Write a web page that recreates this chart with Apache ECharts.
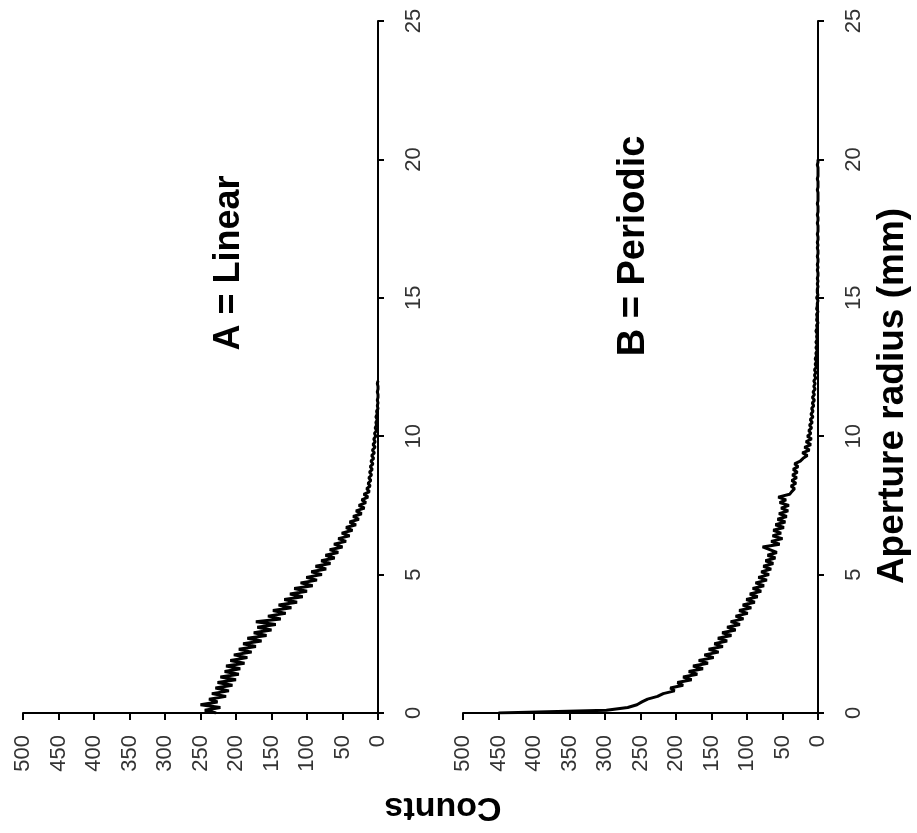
<!DOCTYPE html>
<html>
<head>
<meta charset="utf-8">
<title>Counts vs aperture radius</title>
<script src="https://cdn.jsdelivr.net/npm/echarts@6/dist/echarts.min.js"></script>
<style>
  html, body { margin: 0; padding: 0; background: #fff; }
  #chart { width: 917px; height: 833px; }
</style>
</head>
<body>
<div id="chart"></div>
<script>
// sampling step of the aperture radius (mm), both runs start at 0
const radiusStep = 0.1

// A = Linear, counts at radius 0, 0.1, 0.2 ... 12.0
const countsA = [
  228, 244, 222, 250, 226, 238, 214, 234, 210, 229,
  205, 226, 200, 222, 196, 216, 194, 214, 188, 208,
  184, 203, 178, 196, 172, 190, 164, 184, 157, 175,
  150, 170, 144, 172, 137, 155, 130, 148, 122, 140,
  114, 132, 106, 124, 100, 118, 92, 109, 86, 101,
  79, 94, 73, 88, 67, 80, 61, 74, 56, 68,
  50, 62, 45, 56, 40, 51, 36, 45, 31, 40,
  27, 35, 23, 31, 19, 27, 17, 23, 14, 20,
  12, 16, 11, 14, 10, 13, 9, 12, 8, 11,
  7, 10, 6, 9, 5, 8, 4, 7, 4, 6,
  3, 5, 2, 4, 2, 3, 1, 3, 1, 2,
  0, 1, 0, 1, 0, 0, 1, 0, 0, 1,
  0
]

// B = Periodic, counts at radius 0, 0.1, 0.2 ... 20.0
const countsB = [
  450, 298, 268, 255, 248, 240, 226, 218, 202, 208,
  190, 198, 178, 190, 170, 182, 162, 176, 155, 168,
  147, 160, 140, 154, 134, 146, 128, 141, 122, 135,
  116, 128, 110, 123, 105, 116, 99, 111, 94, 106,
  89, 101, 85, 96, 80, 92, 76, 88, 72, 84,
  69, 80, 66, 77, 63, 74, 60, 71, 58, 68,
  78, 54, 66, 50, 64, 52, 63, 48, 60, 46,
  57, 44, 55, 42, 52, 41, 54, 45, 56, 40,
  37, 33, 38, 31, 37, 30, 36, 29, 35, 28,
  33, 25, 21, 15, 22, 12, 19, 10, 17, 9,
  15, 10, 13, 9, 12, 8, 11, 7, 10, 7,
  9, 6, 8, 5, 8, 5, 7, 4, 6, 4,
  6, 3, 5, 3, 5, 2, 4, 2, 4, 2,
  3, 1, 3, 1, 3, 1, 2, 1, 3, 1,
  2, 0, 2, 1, 2, 0, 2, 1, 1, 0,
  2, 0, 1, 1, 0, 1, 0, 1, 0, 0,
  1, 0, 1, 0, 0, 1, 0, 0, 1, 0,
  1, 0, 0, 1, 0, 0, 0, 1, 0, 0,
  1, 0, 0, 0, 1, 0, 0, 0, 0, 1,
  0, 0, 0, 1, 0, 0, 0, 0, 1, 0,
  0
]

// tick labels
const countTicks = { min: 0, max: 500, interval: 50 }
const radiusTicks = { min: 0, max: 25, interval: 5 }

// counts lie along x (0 on the right), radius along y
function toPairs(counts) {
  return counts.map((c, i) => [c, +(i * radiusStep).toFixed(1)])
}

const labelFont = '"Liberation Sans", Arial, sans-serif'

function countAxis(gridIndex) {
  return {
    type: 'value',
    gridIndex: gridIndex,
    position: 'bottom',
    inverse: true,
    min: countTicks.min,
    max: countTicks.max,
    interval: countTicks.interval,
    splitLine: { show: false },
    axisLine: { show: true, onZero: false, lineStyle: { color: '#000', width: 2 } },
    axisTick: { show: true, length: 7, lineStyle: { color: '#000', width: 2 } },
    axisLabel: { rotate: 90, margin: 22, fontSize: 22, color: '#333', fontFamily: labelFont }
  }
}

function radiusAxis(gridIndex) {
  return {
    type: 'value',
    gridIndex: gridIndex,
    position: 'right',
    min: radiusTicks.min,
    max: radiusTicks.max,
    interval: radiusTicks.interval,
    splitLine: { show: false },
    axisLine: { show: true, onZero: false, lineStyle: { color: '#000', width: 2 } },
    axisTick: { show: true, length: 6, lineStyle: { color: '#000', width: 2 } },
    axisLabel: { rotate: 90, margin: 25, fontSize: 22, color: '#333', fontFamily: labelFont }
  }
}

function titleText(text, x, y, size, rot) {
  return {
    type: 'text',
    x: x,
    y: y,
    rotation: rot,
    style: {
      text: text,
      font: 'bold ' + size + 'px "Liberation Sans", Arial, sans-serif',
      fill: '#000',
      align: 'center',
      verticalAlign: 'middle'
    }
  }
}

const chart = echarts.init(document.getElementById('chart'))
chart.setOption({
  animation: false,
  backgroundColor: '#fff',
  grid: [
    { left: 23, right: 539, top: 21, bottom: 120 },
    { left: 463, right: 99, top: 21, bottom: 120 }
  ],
  xAxis: [countAxis(0), countAxis(1)],
  yAxis: [radiusAxis(0), radiusAxis(1)],
  series: [
    {
      name: 'A = Linear',
      type: 'line',
      xAxisIndex: 0,
      yAxisIndex: 0,
      showSymbol: false,
      lineStyle: { color: '#000', width: 3 },
      data: toPairs(countsA)
    },
    {
      name: 'B = Periodic',
      type: 'line',
      xAxisIndex: 1,
      yAxisIndex: 1,
      showSymbol: false,
      lineStyle: { color: '#000', width: 3 },
      data: toPairs(countsB)
    }
  ],
  graphic: [
    titleText('A = Linear', 229, 263, 36, Math.PI / 2),
    titleText('B = Periodic', 634, 246, 38, Math.PI / 2),
    titleText('Aperture radius (mm)', 893, 396, 37, Math.PI / 2),
    titleText('Counts', 443, 807, 34, Math.PI)
  ]
})
</script>
</body>
</html>
